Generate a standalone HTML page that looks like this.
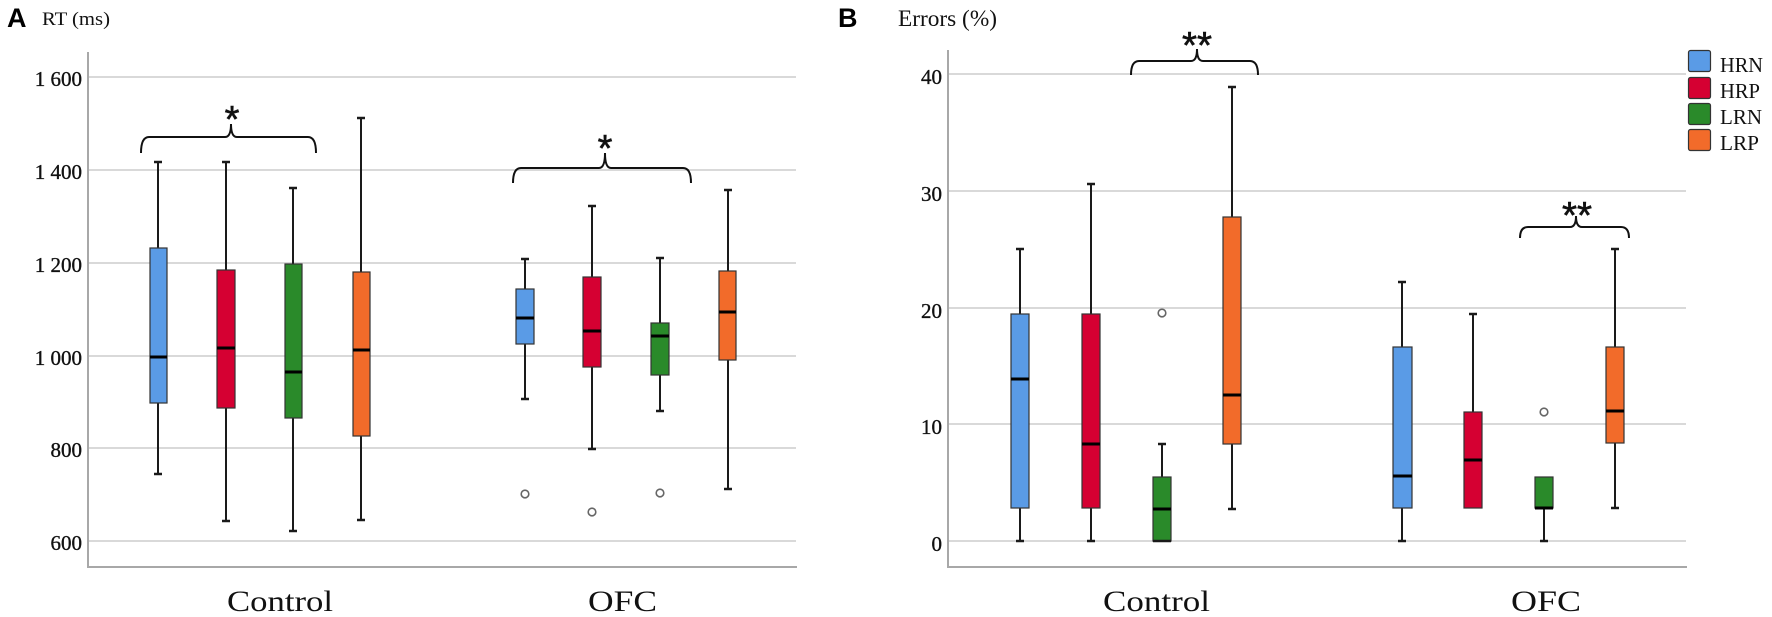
<!DOCTYPE html>
<html><head><meta charset="utf-8"><style>
html,body{margin:0;padding:0;background:#fff;}
svg{display:block;}
.tk{font-family:"Liberation Serif",serif;font-size:21px;fill:#111;text-anchor:end;stroke:#111;stroke-width:0.35;}
.cat{font-family:"Liberation Serif",serif;font-size:30px;fill:#111;}
.lg{font-family:"Liberation Serif",serif;font-size:21px;fill:#111;}
.star{font-family:"Liberation Sans",sans-serif;font-size:38px;font-weight:normal;fill:#111;text-anchor:middle;stroke:#111;stroke-width:0.6;}
.grid{stroke:#d9d9d9;stroke-width:2;}
.ax{stroke:#a8a8a8;stroke-width:2;fill:none;}
.wh{stroke:#1a1a1a;stroke-width:2;}
.cap{stroke:#1a1a1a;stroke-width:2.5;}
.med{stroke:#000;stroke-width:3;}
.box{stroke:#333;stroke-width:1.2;}
.out{fill:#fff;stroke:#666;stroke-width:1.6;}
.br{fill:none;stroke:#111;stroke-width:2;}
</style></head><body>
<svg width="1772" height="617" viewBox="0 0 1772 617" xmlns="http://www.w3.org/2000/svg">
<rect width="1772" height="617" fill="#fff"/>

<!-- ===== Panel A ===== -->
<text x="7" y="27" font-family="Liberation Sans, sans-serif" font-size="27" font-weight="bold" fill="#000">A</text>
<text x="42" y="25" font-family="Liberation Serif, serif" font-size="19" fill="#111" textLength="68" lengthAdjust="spacingAndGlyphs">RT (ms)</text>

<g>
<line class="grid" x1="89" y1="77" x2="796" y2="77"/>
<line class="grid" x1="89" y1="170" x2="796" y2="170"/>
<line class="grid" x1="89" y1="263" x2="796" y2="263"/>
<line class="grid" x1="89" y1="356" x2="796" y2="356"/>
<line class="grid" x1="89" y1="448" x2="796" y2="448"/>
<line class="grid" x1="89" y1="541" x2="796" y2="541"/>
<polyline class="ax" points="88,52 88,567 797,567"/>
<text class="tk" x="82" y="86">1 600</text>
<text class="tk" x="82" y="179">1 400</text>
<text class="tk" x="82" y="272">1 200</text>
<text class="tk" x="82" y="365">1 000</text>
<text class="tk" x="82" y="457">800</text>
<text class="tk" x="82" y="550">600</text>
</g>

<!-- A Control -->
<g>
<line class="wh" x1="158" y1="162" x2="158" y2="474"/><line class="cap" x1="154" y1="162" x2="162" y2="162"/><line class="cap" x1="154" y1="474" x2="162" y2="474"/>
<rect class="box" x="150" y="248" width="17" height="155" fill="#5a9be6"/><line class="med" x1="150" y1="357" x2="167" y2="357"/>

<line class="wh" x1="226" y1="162" x2="226" y2="521"/><line class="cap" x1="222" y1="162" x2="230" y2="162"/><line class="cap" x1="222" y1="521" x2="230" y2="521"/>
<rect class="box" x="217" y="270" width="18" height="138" fill="#d50032"/><line class="med" x1="217" y1="348" x2="235" y2="348"/>

<line class="wh" x1="293" y1="188" x2="293" y2="531"/><line class="cap" x1="289" y1="188" x2="297" y2="188"/><line class="cap" x1="289" y1="531" x2="297" y2="531"/>
<rect class="box" x="285" y="264" width="17" height="154" fill="#2a8a2a"/><line class="med" x1="285" y1="372" x2="302" y2="372"/>

<line class="wh" x1="361" y1="118" x2="361" y2="520"/><line class="cap" x1="357" y1="118" x2="365" y2="118"/><line class="cap" x1="357" y1="520" x2="365" y2="520"/>
<rect class="box" x="353" y="272" width="17" height="164" fill="#f26b2a"/><line class="med" x1="353" y1="350" x2="370" y2="350"/>
</g>

<!-- A OFC -->
<g>
<line class="wh" x1="525" y1="259" x2="525" y2="399"/><line class="cap" x1="521" y1="259" x2="529" y2="259"/><line class="cap" x1="521" y1="399" x2="529" y2="399"/>
<rect class="box" x="516" y="289" width="18" height="55" fill="#5a9be6"/><line class="med" x1="516" y1="318" x2="534" y2="318"/>
<circle class="out" cx="525" cy="494" r="3.8"/>

<line class="wh" x1="592" y1="206" x2="592" y2="449"/><line class="cap" x1="588" y1="206" x2="596" y2="206"/><line class="cap" x1="588" y1="449" x2="596" y2="449"/>
<rect class="box" x="583" y="277" width="18" height="90" fill="#d50032"/><line class="med" x1="583" y1="331" x2="601" y2="331"/>
<circle class="out" cx="592" cy="512" r="3.8"/>

<line class="wh" x1="660" y1="258" x2="660" y2="411"/><line class="cap" x1="656" y1="258" x2="664" y2="258"/><line class="cap" x1="656" y1="411" x2="664" y2="411"/>
<rect class="box" x="651" y="323" width="18" height="52" fill="#2a8a2a"/><line class="med" x1="651" y1="336" x2="669" y2="336"/>
<circle class="out" cx="660" cy="493" r="3.8"/>

<line class="wh" x1="728" y1="190" x2="728" y2="489"/><line class="cap" x1="724" y1="190" x2="732" y2="190"/><line class="cap" x1="724" y1="489" x2="732" y2="489"/>
<rect class="box" x="719" y="271" width="17" height="89" fill="#f26b2a"/><line class="med" x1="719" y1="312" x2="736" y2="312"/>
</g>

<!-- A braces -->
<path class="br" d="M141,153 Q141,137 149,137 L225,137 Q231,137 231,124 Q231,137 237,137 L308,137 Q316,137 316,153"/>
<text class="star" x="232" y="132">*</text>
<path class="br" d="M513,183 Q513,168 521,168 L599,168 Q605,168 605,153 Q605,168 611,168 L683,168 Q691,168 691,183"/>
<text class="star" x="605" y="161">*</text>

<text class="cat" x="227" y="611" textLength="106" lengthAdjust="spacingAndGlyphs">Control</text>
<text class="cat" x="588" y="611" textLength="69" lengthAdjust="spacingAndGlyphs">OFC</text>

<!-- ===== Panel B ===== -->
<text x="838" y="27" font-family="Liberation Sans, sans-serif" font-size="27" font-weight="bold" fill="#000">B</text>
<text x="898" y="26" font-family="Liberation Serif, serif" font-size="23" fill="#111" textLength="99" lengthAdjust="spacingAndGlyphs">Errors (%)</text>

<g>
<line class="grid" x1="949" y1="74" x2="1686" y2="74"/>
<line class="grid" x1="949" y1="191" x2="1686" y2="191"/>
<line class="grid" x1="949" y1="308" x2="1686" y2="308"/>
<line class="grid" x1="949" y1="424" x2="1686" y2="424"/>
<line class="grid" x1="949" y1="541" x2="1686" y2="541"/>
<polyline class="ax" points="948,50 948,567 1687,567"/>
<text class="tk" x="942" y="84">40</text>
<text class="tk" x="942" y="201">30</text>
<text class="tk" x="942" y="318">20</text>
<text class="tk" x="942" y="434">10</text>
<text class="tk" x="942" y="551">0</text>
</g>

<!-- B Control -->
<g>
<line class="wh" x1="1020" y1="249" x2="1020" y2="541"/><line class="cap" x1="1016" y1="249" x2="1024" y2="249"/><line class="cap" x1="1016" y1="541" x2="1024" y2="541"/>
<rect class="box" x="1011" y="314" width="18" height="194" fill="#5a9be6"/><line class="med" x1="1011" y1="379" x2="1029" y2="379"/>

<line class="wh" x1="1091" y1="184" x2="1091" y2="541"/><line class="cap" x1="1087" y1="184" x2="1095" y2="184"/><line class="cap" x1="1087" y1="541" x2="1095" y2="541"/>
<rect class="box" x="1082" y="314" width="18" height="194" fill="#d50032"/><line class="med" x1="1082" y1="444" x2="1100" y2="444"/>

<line class="wh" x1="1162" y1="444" x2="1162" y2="477"/><line class="cap" x1="1158" y1="444" x2="1166" y2="444"/>
<rect class="box" x="1153" y="477" width="18" height="64" fill="#2a8a2a"/><line class="med" x1="1153" y1="509" x2="1171" y2="509"/><line class="cap" x1="1153" y1="541" x2="1171" y2="541"/>
<circle class="out" cx="1162" cy="313" r="3.8"/>

<line class="wh" x1="1232" y1="87" x2="1232" y2="509"/><line class="cap" x1="1228" y1="87" x2="1236" y2="87"/><line class="cap" x1="1228" y1="509" x2="1236" y2="509"/>
<rect class="box" x="1223" y="217" width="18" height="227" fill="#f26b2a"/><line class="med" x1="1223" y1="395" x2="1241" y2="395"/>
</g>

<!-- B OFC -->
<g>
<line class="wh" x1="1402" y1="282" x2="1402" y2="541"/><line class="cap" x1="1398" y1="282" x2="1406" y2="282"/><line class="cap" x1="1398" y1="541" x2="1406" y2="541"/>
<rect class="box" x="1393" y="347" width="19" height="161" fill="#5a9be6"/><line class="med" x1="1393" y1="476" x2="1412" y2="476"/>

<line class="wh" x1="1473" y1="314" x2="1473" y2="412"/><line class="cap" x1="1469" y1="314" x2="1477" y2="314"/>
<rect class="box" x="1464" y="412" width="18" height="96" fill="#d50032"/><line class="med" x1="1464" y1="460" x2="1482" y2="460"/>

<line class="wh" x1="1544" y1="508" x2="1544" y2="541"/><line class="cap" x1="1540" y1="541" x2="1548" y2="541"/>
<rect class="box" x="1535" y="477" width="18" height="31" fill="#2a8a2a"/><line class="med" x1="1535" y1="508" x2="1553" y2="508"/>
<circle class="out" cx="1544" cy="412" r="3.8"/>

<line class="wh" x1="1615" y1="249" x2="1615" y2="508"/><line class="cap" x1="1611" y1="249" x2="1619" y2="249"/><line class="cap" x1="1611" y1="508" x2="1619" y2="508"/>
<rect class="box" x="1606" y="347" width="18" height="96" fill="#f26b2a"/><line class="med" x1="1606" y1="411" x2="1624" y2="411"/>
</g>

<!-- B braces -->
<path class="br" d="M1131,75 Q1131,61 1139,61 L1191,61 Q1197,61 1197,49 Q1197,61 1203,61 L1250,61 Q1258,61 1258,75"/>
<text class="star" x="1197" y="58" textLength="30" lengthAdjust="spacingAndGlyphs">**</text>
<path class="br" d="M1520,238 Q1520,227 1528,227 L1570,227 Q1576,227 1576,216 Q1576,227 1582,227 L1621,227 Q1629,227 1629,238"/>
<text class="star" x="1577" y="228" textLength="30" lengthAdjust="spacingAndGlyphs">**</text>

<text class="cat" x="1103" y="611" textLength="107" lengthAdjust="spacingAndGlyphs">Control</text>
<text class="cat" x="1511" y="611" textLength="70" lengthAdjust="spacingAndGlyphs">OFC</text>

<!-- Legend -->
<rect x="1688.5" y="50.5" width="22" height="21" rx="2" fill="#5a9be6" stroke="#333" stroke-width="1.2"/>
<rect x="1688.5" y="77.5" width="22" height="21" rx="2" fill="#d50032" stroke="#333" stroke-width="1.2"/>
<rect x="1688.5" y="103.5" width="22" height="21" rx="2" fill="#2a8a2a" stroke="#333" stroke-width="1.2"/>
<rect x="1688.5" y="129.5" width="22" height="21" rx="2" fill="#f26b2a" stroke="#333" stroke-width="1.2"/>
<text class="lg" x="1720" y="72" textLength="43" lengthAdjust="spacingAndGlyphs">HRN</text>
<text class="lg" x="1720" y="98" textLength="40" lengthAdjust="spacingAndGlyphs">HRP</text>
<text class="lg" x="1720" y="124" textLength="42" lengthAdjust="spacingAndGlyphs">LRN</text>
<text class="lg" x="1720" y="150" textLength="39" lengthAdjust="spacingAndGlyphs">LRP</text>
</svg>
</body></html>
